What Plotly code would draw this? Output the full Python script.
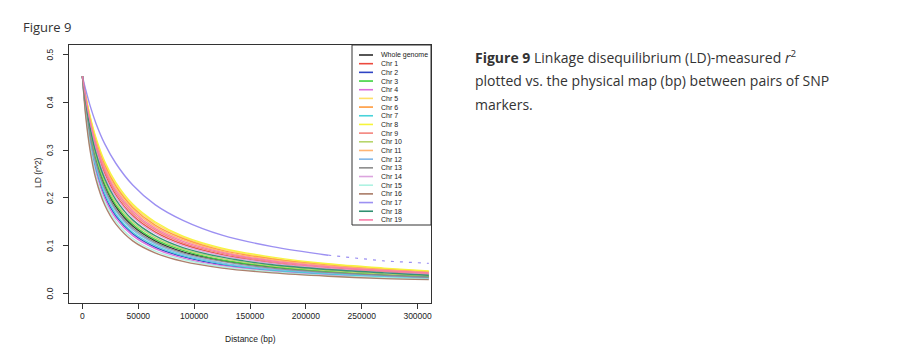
import plotly.graph_objects as go

# ---------------- data ----------------
distance_bp = [0, 3000, 7000, 12000, 20000, 30000, 45000, 65000, 90000,
               125000, 170000, 220000, 270000, 310000]
purple_dense_end = 12   # Chr 17 pairs get sparse beyond 220000 bp

series_names = ["Whole genome", "Chr 1", "Chr 2", "Chr 3", "Chr 4", "Chr 5",
                "Chr 6", "Chr 7", "Chr 8", "Chr 9", "Chr 10", "Chr 11",
                "Chr 12", "Chr 13", "Chr 14", "Chr 15", "Chr 16", "Chr 17",
                "Chr 18", "Chr 19"]

ld_whole = [0.455, 0.393, 0.333, 0.280, 0.225, 0.181, 0.141, 0.110, 0.087, 0.069, 0.055, 0.045, 0.039, 0.036]
ld_chr1  = [0.455, 0.404, 0.353, 0.305, 0.251, 0.206, 0.163, 0.129, 0.103, 0.081, 0.064, 0.052, 0.045, 0.040]
ld_chr2  = [0.455, 0.381, 0.315, 0.260, 0.204, 0.162, 0.125, 0.097, 0.077, 0.060, 0.048, 0.040, 0.035, 0.032]
ld_chr3  = [0.455, 0.395, 0.337, 0.285, 0.229, 0.185, 0.145, 0.113, 0.090, 0.070, 0.056, 0.046, 0.040, 0.036]
ld_chr4  = [0.455, 0.379, 0.311, 0.255, 0.199, 0.157, 0.121, 0.094, 0.074, 0.058, 0.047, 0.039, 0.034, 0.031]
ld_chr5  = [0.455, 0.413, 0.368, 0.324, 0.273, 0.228, 0.184, 0.147, 0.118, 0.093, 0.074, 0.061, 0.052, 0.046]
ld_chr6  = [0.455, 0.411, 0.365, 0.320, 0.268, 0.224, 0.180, 0.143, 0.115, 0.090, 0.072, 0.059, 0.050, 0.045]
ld_chr7  = [0.455, 0.385, 0.320, 0.265, 0.209, 0.166, 0.128, 0.100, 0.079, 0.062, 0.049, 0.041, 0.035, 0.032]
ld_chr8  = [0.455, 0.414, 0.370, 0.327, 0.276, 0.232, 0.187, 0.150, 0.120, 0.095, 0.076, 0.062, 0.053, 0.047]
ld_chr9  = [0.455, 0.406, 0.356, 0.309, 0.256, 0.211, 0.168, 0.133, 0.106, 0.084, 0.066, 0.054, 0.047, 0.042]
ld_chr10 = [0.455, 0.397, 0.341, 0.290, 0.235, 0.190, 0.149, 0.117, 0.093, 0.073, 0.058, 0.048, 0.041, 0.037]
ld_chr11 = [0.455, 0.410, 0.362, 0.317, 0.264, 0.220, 0.176, 0.140, 0.112, 0.088, 0.070, 0.058, 0.049, 0.044]
ld_chr12 = [0.455, 0.388, 0.325, 0.271, 0.215, 0.172, 0.133, 0.104, 0.082, 0.064, 0.051, 0.043, 0.037, 0.033]
ld_chr13 = [0.455, 0.390, 0.329, 0.276, 0.220, 0.176, 0.137, 0.107, 0.085, 0.067, 0.053, 0.044, 0.038, 0.034]
ld_chr14 = [0.455, 0.402, 0.349, 0.301, 0.246, 0.202, 0.160, 0.126, 0.100, 0.079, 0.063, 0.052, 0.044, 0.040]
ld_chr15 = [0.455, 0.374, 0.304, 0.247, 0.192, 0.151, 0.115, 0.089, 0.071, 0.056, 0.045, 0.037, 0.033, 0.030]
ld_chr16 = [0.455, 0.370, 0.298, 0.240, 0.185, 0.145, 0.110, 0.085, 0.067, 0.053, 0.043, 0.036, 0.031, 0.029]
ld_chr17 = [0.455, 0.426, 0.392, 0.357, 0.313, 0.272, 0.227, 0.186, 0.153, 0.122, 0.098, 0.080, 0.068, 0.063]
ld_chr18 = [0.455, 0.400, 0.345, 0.295, 0.240, 0.196, 0.154, 0.121, 0.096, 0.076, 0.060, 0.050, 0.043, 0.038]
ld_chr19 = [0.455, 0.408, 0.359, 0.313, 0.260, 0.215, 0.172, 0.136, 0.109, 0.086, 0.068, 0.056, 0.048, 0.043]

series_values = [ld_whole, ld_chr1, ld_chr2, ld_chr3, ld_chr4, ld_chr5, ld_chr6,
                 ld_chr7, ld_chr8, ld_chr9, ld_chr10, ld_chr11, ld_chr12, ld_chr13,
                 ld_chr14, ld_chr15, ld_chr16, ld_chr17, ld_chr18, ld_chr19]

x_ticks = [0, 50000, 100000, 150000, 200000, 250000, 300000]
y_ticks = [0.0, 0.1, 0.2, 0.3, 0.4, 0.5]
y_tick_labels = ["0.0", "0.1", "0.2", "0.3", "0.4", "0.5"]

# ---------------- styles ----------------
colors = ["#2b2b2b", "#ec4a3e", "#2f44c4", "#3fd23f", "#dc6cdc", "#ffdf66",
          "#ff9a3c", "#48d3da", "#f6f43a", "#f3837c", "#b7d56c", "#ffb574",
          "#80b6e8", "#8c8c8c", "#dca4de", "#aef2e2", "#a97b66", "#9c90f2",
          "#2f8f70", "#f87ba8"]

OFF = 8                      # page body margin of the html page
W, H = 905 - OFF, 364 - OFF
L, T = 69 - OFF, 45 - OFF
PW, PH = 362, 258
R, B = W - L - PW, H - T - PH

def px(x):
    return (x - OFF - L) / PW

def py(y):
    return (T + PH - (y - OFF)) / PH

FONT = "Liberation Sans, Arial, sans-serif"
CAP_FONT = "Open Sans, Noto Sans, sans-serif"

fig = go.Figure()
for name, vals, col in zip(series_names, series_values, colors):
    if name == "Chr 17":
        fig.add_trace(go.Scatter(x=distance_bp[:purple_dense_end], y=vals[:purple_dense_end],
                                 mode="lines", name=name,
                                 line=dict(color=col, width=1.4, shape="spline", smoothing=0.9),
                                 showlegend=False))
        fig.add_trace(go.Scatter(x=distance_bp[purple_dense_end - 1:],
                                 y=vals[purple_dense_end - 1:], mode="lines", name=name,
                                 line=dict(color=col, width=1.2, dash="3px,6px"),
                                 showlegend=False))
    else:
        fig.add_trace(go.Scatter(x=distance_bp, y=vals, mode="lines", name=name,
                                 line=dict(color=col, width=1.4, shape="spline", smoothing=0.9),
                                 opacity=0.95, showlegend=False))

fig.update_xaxes(range=[-12000, 312000], tickvals=x_ticks,
                 ticktext=[str(v) for v in x_ticks], ticks="outside", ticklen=5,
                 tickcolor="#333", showline=True, linecolor="#333", linewidth=1,
                 mirror=True, showgrid=False, zeroline=False, automargin=False,
                 tickfont=dict(family=FONT, size=8.5, color="#222"))
fig.update_yaxes(range=[-0.02, 0.52], tickvals=y_ticks, showticklabels=False,
                 ticks="outside", ticklen=5, tickcolor="#333", showline=True,
                 linecolor="#333", linewidth=1, mirror=True, showgrid=False,
                 zeroline=False, automargin=False)

shapes = []
annotations = []
# rotated y tick labels (R style)
for v, lab in zip(y_ticks, y_tick_labels):
    annotations.append(dict(x=px(50), y=v, xref="paper", yref="y", text=lab,
                            showarrow=False, textangle=-90, xanchor="center",
                            yanchor="middle",
                            font=dict(family=FONT, size=8.5, color="#222")))
# legend box
shapes.append(dict(type="rect", xref="paper", yref="paper", x0=px(352), x1=1.0,
                   y0=py(225), y1=1.0, line=dict(color="#333", width=1),
                   fillcolor="white", layer="above"))
for i, (name, col) in enumerate(zip(series_names, colors)):
    yy = 55 + i * 8.68
    shapes.append(dict(type="line", xref="paper", yref="paper", x0=px(359), x1=px(373),
                       y0=py(yy), y1=py(yy), line=dict(color=col, width=1.6), layer="above"))
    annotations.append(dict(x=px(379), y=py(yy), xref="paper", yref="paper", text=name,
                            showarrow=False, xanchor="left", yanchor="middle",
                            font=dict(family=FONT, size=7, color="#222")))

# axis titles
annotations.append(dict(x=px(250), y=py(346), xref="paper", yref="paper",
                        text="Distance (bp)", showarrow=False,
                        font=dict(family=FONT, size=8.5, color="#222")))
annotations.append(dict(x=px(31), y=py(173), xref="paper", yref="paper",
                        text="LD (r^2)", showarrow=False, textangle=-90,
                        font=dict(family=FONT, size=8.5, color="#222")))

# page texts
annotations.append(dict(x=px(21), y=py(27), xref="paper", yref="paper",
                        text="Figure 9", showarrow=False, xanchor="left", yanchor="middle",
                        font=dict(family=CAP_FONT, size=13, color="#333")))
cap_lines = ["<b>Figure 9</b> Linkage disequilibrium (LD)-measured <i>r</i><sup>2</sup>",
             "plotted vs. the physical map (bp) between pairs of SNP",
             "markers."]
for j, t in enumerate(cap_lines):
    annotations.append(dict(x=px(473), y=py(57 + j * 23.5), xref="paper", yref="paper",
                            text=t, showarrow=False, xanchor="left", yanchor="middle",
                            font=dict(family=CAP_FONT, size=14, color="#333")))

fig.update_layout(width=W, height=H, margin=dict(l=L, r=R, t=T, b=B),
                  plot_bgcolor="white", paper_bgcolor="white",
                  shapes=shapes, annotations=annotations)
fig.write_html("out.html")
